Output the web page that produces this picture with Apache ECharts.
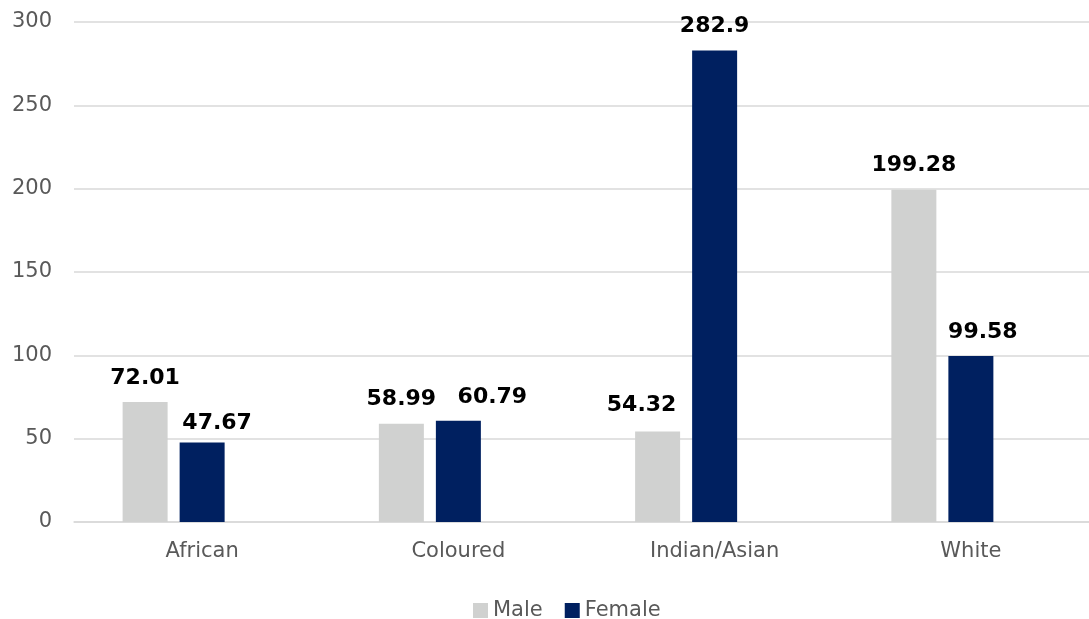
<!DOCTYPE html>
<html><head><meta charset="utf-8">
<script src="https://cdn.jsdelivr.net/npm/echarts@6/dist/echarts.min.js"></script>
<style>html,body{margin:0;padding:0;background:#fff;overflow:hidden;width:1089px;height:619px}#c{width:1100px;height:619px}</style>
</head><body><div id="c"></div>
<script>
const categories = ['African', 'Coloured', 'Indian/Asian', 'White'];
const male = [72.01, 58.99, 54.32, 199.28];
const female = [47.67, 60.79, 282.9, 99.58];
const yTicks = [0, 50, 100, 150, 200, 250, 300];

// label nudges (as placed in the original chart), kept separate from the data
const maleLabelShift = [[0, 0], [0, 0], [-16, -2], [0, -1]];
const femaleLabelShift = [[15, 5], [34, 1], [0, 0], [12, 0]];

const chart = echarts.init(document.getElementById('c'));
const labelStyle = {
  show: true, position: 'top', distance: 13,
  color: '#000', fontWeight: 'bold', fontSize: 22, fontFamily: 'DejaVu Sans'
};
function items(values, shifts) {
  return values.map((v, i) => ({ value: v, label: { offset: shifts[i] } }));
}
const axisFont = 'DejaVu Sans';
chart.setOption({
  animation: false,
  textStyle: { fontFamily: axisFont },
  grid: { left: 74, top: 22, width: 1025, height: 500, containLabel: false },
  legend: {
    data: ['Male', 'Female'], left: 468, top: 595,
    icon: 'rect', itemWidth: 15, itemHeight: 15, itemGap: 22,
    textStyle: { color: '#595959', fontSize: 21, fontFamily: axisFont }
  },
  xAxis: {
    type: 'category', data: categories,
    axisLine: { show: true, lineStyle: { color: '#d9d9d9', width: 1.5 } },
    axisTick: { show: false },
    axisLabel: { color: '#595959', fontSize: 21, margin: 19, fontFamily: axisFont }
  },
  yAxis: {
    type: 'value', min: yTicks[0], max: yTicks[yTicks.length - 1], interval: 50,
    axisLine: { show: false }, axisTick: { show: false },
    splitLine: { lineStyle: { color: '#d9d9d9', width: 1.5 } },
    axisLabel: { color: '#595959', fontSize: 21, margin: 22, fontFamily: axisFont }
  },
  series: [
    { name: 'Male', type: 'bar', data: items(male, maleLabelShift), barWidth: 45, barGap: '26.7%',
      itemStyle: { color: '#d0d1d0' }, label: labelStyle },
    { name: 'Female', type: 'bar', data: items(female, femaleLabelShift), barWidth: 45, barGap: '26.7%',
      itemStyle: { color: '#002060' }, label: labelStyle },
    { name: 'blank', type: 'bar', data: [null, null, null, null], barWidth: 45, barGap: '26.7%',
      itemStyle: { color: 'transparent' } }
  ]
});
</script></body></html>
